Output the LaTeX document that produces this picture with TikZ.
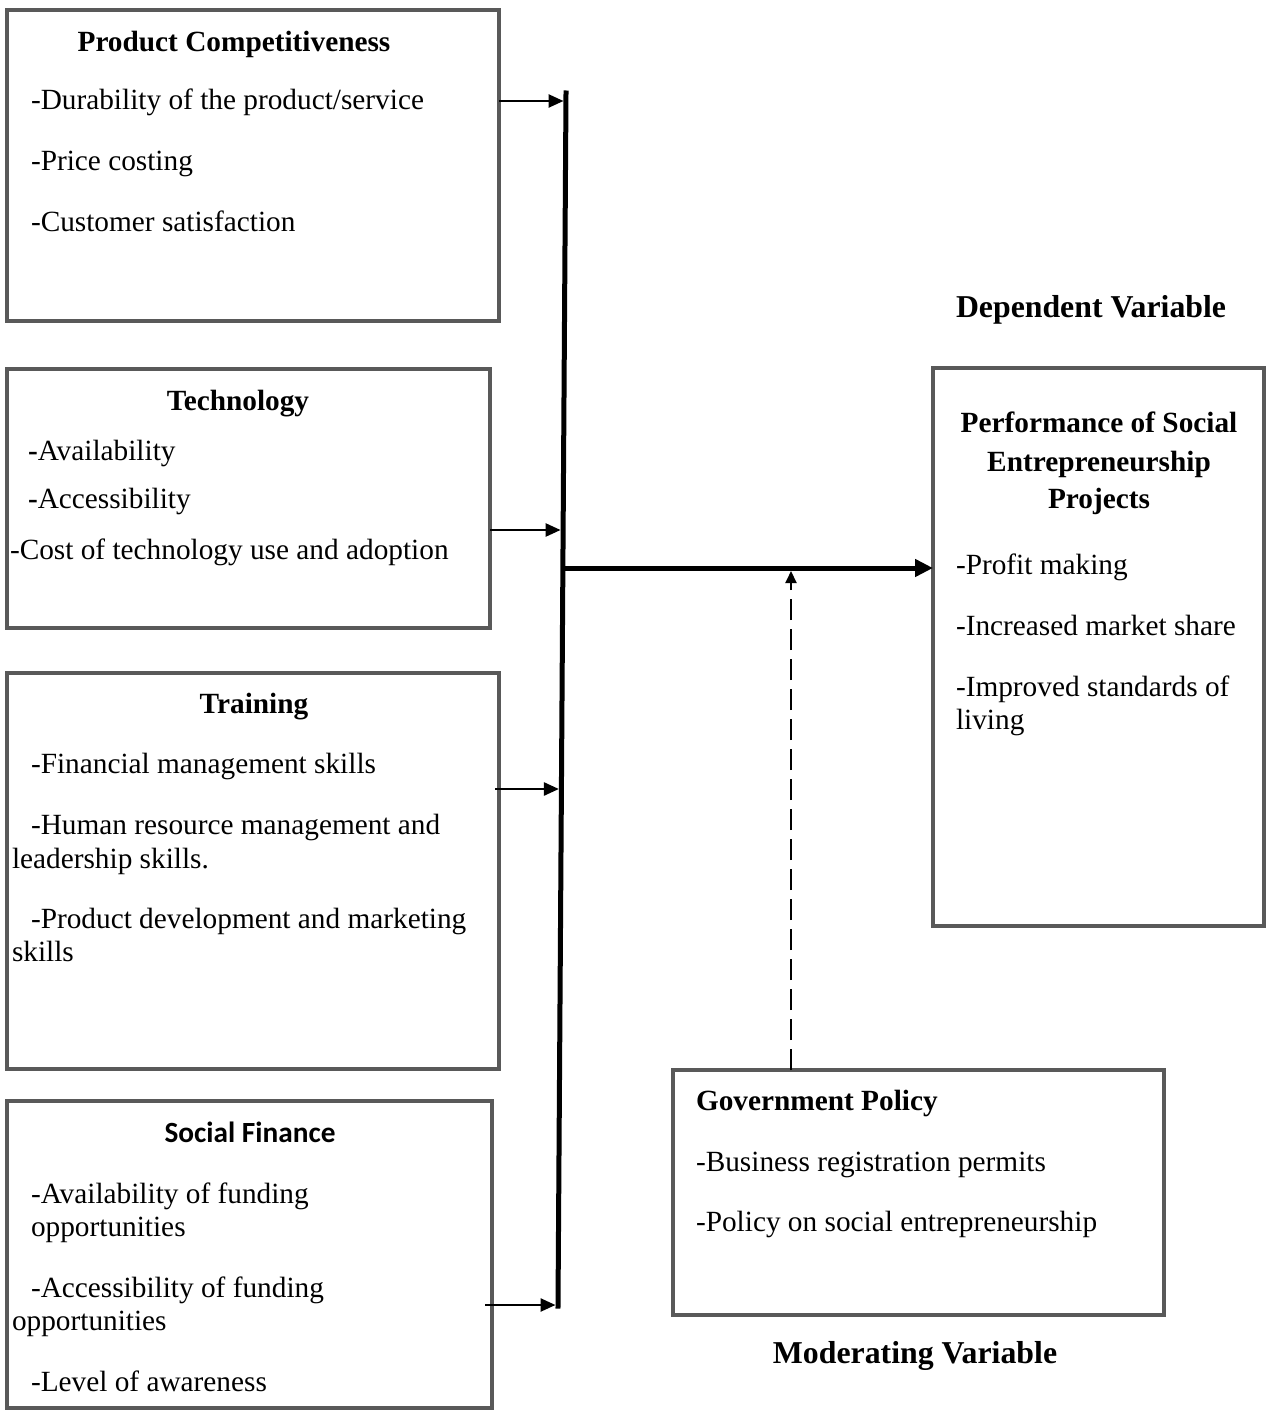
\documentclass[tikz,border=0pt]{standalone}
\usepackage{fontspec}
\setmainfont{Liberation Serif}
\newfontfamily\calfont{Carlito}
\usetikzlibrary{arrows.meta}
\definecolor{boxgray}{RGB}{89,89,89}
\tikzset{
  box/.style={draw=boxgray, line width=4bp, rectangle, inner sep=0pt, outer sep=0pt, anchor=north west},
  txt/.style={anchor=base west, inner sep=0pt, outer sep=0pt, font=\fontsize{29.3bp}{33.7bp}\selectfont},
  head/.style={anchor=base, inner sep=0pt, outer sep=0pt, font=\fontsize{29.3bp}{33.7bp}\selectfont\bfseries},
  bighead/.style={anchor=base, inner sep=0pt, outer sep=0pt, font=\fontsize{31.8bp}{36.5bp}\selectfont\bfseries},
  feed/.style={line width=2.5bp, -{Triangle[length=15bp,width=13bp]}},
  mainarrow/.style={line width=5bp, -{Triangle[length=18bp,width=17bp]}},
  modarrow/.style={line width=2bp, dash pattern=on 21bp off 9bp, -{Triangle[length=12bp,width=11bp]}},
  spine/.style={line width=5bp, line cap=rect}
}
\begin{document}
\begin{tikzpicture}[x=1bp,y=-1bp]
\useasboundingbox (0,0) rectangle (1269,1410);
% boxes
\node[box, minimum width=492bp, minimum height=311bp] (pc) at (7,10) {};
\node[box, minimum width=483bp, minimum height=259bp] (tech) at (7,369) {};
\node[box, minimum width=492bp, minimum height=396bp] (train) at (7,673) {};
\node[box, minimum width=484.5bp, minimum height=307bp] (sf) at (7,1101) {};
\node[box, minimum width=331bp, minimum height=558bp] (perf) at (933,368) {};
\node[box, minimum width=491bp, minimum height=245bp] (gp) at (673,1070) {};
% Product Competitiveness
\node[head] (pch) at (234,52) {Product Competitiveness};
\node[txt] (pc1) at (31,110) {-Durability of the product/service};
\node[txt] (pc2) at (31,171) {-Price costing};
\node[txt] (pc3) at (31,232) {-Customer satisfaction};
% Technology
\node[head] (th) at (238,410) {Technology};
\node[txt] (t1) at (28,460) {\textbf{-}Availability};
\node[txt] (t2) at (28,508) {\textbf{-}Accessibility};
\node[txt] (t3) at (10,559) {-Cost of technology use and adoption};
% Training
\node[head] (trh) at (254,713) {Training};
\node[txt] (tr1) at (31,773) {-Financial management skills};
\node[txt] (tr2) at (31,834) {-Human resource management and};
\node[txt] (tr2b) at (12,868) {leadership skills.};
\node[txt] (tr3) at (31,928) {-Product development and marketing};
\node[txt] (tr3b) at (12,961) {skills};
% Social Finance
\node[anchor=base, inner sep=0pt, font=\fontsize{29.3bp}{33.7bp}\calfont\bfseries] (sfh) at (250,1142) {Social Finance};
\node[txt] (sf1) at (31,1203) {-Availability of funding};
\node[txt] (sf1b) at (31,1236) {opportunities};
\node[txt] (sf2) at (31,1297) {-Accessibility of funding};
\node[txt] (sf2b) at (12,1330) {opportunities};
\node[txt] (sf3) at (31,1391) {-Level of awareness};
% Performance
\node[bighead] (dv) at (1091,317) {Dependent Variable};
\node[head] (ph1) at (1099,432) {Performance of Social};
\node[head] (ph2) at (1099,471) {Entrepreneurship};
\node[head] (ph3) at (1099,508) {Projects};
\node[txt] (p1) at (956,574) {-Profit making};
\node[txt] (p2) at (956,635) {-Increased market share};
\node[txt] (p3) at (956,696) {-Improved standards of};
\node[txt] (p3b) at (956,729) {living};
% Government Policy
\node[txt, font=\fontsize{29.3bp}{33.7bp}\selectfont\bfseries] (gph) at (696,1110) {Government Policy};
\node[txt] (gp1) at (696,1171) {-Business registration permits};
\node[txt] (gp2) at (696,1231) {-Policy on social entrepreneurship};
\node[bighead] (mv) at (915,1363) {Moderating Variable};
% spine
\coordinate (sT) at (566,93);
\coordinate (sB) at (558,1306);
\draw[spine] (sT) -- (sB);
\coordinate (j1) at (563.5,101);
\coordinate (j2) at (560.6,530);
\coordinate (j3) at (558.9,789);
\coordinate (j4) at (555.5,1305);
\coordinate (jm) at (565,568);
\draw[feed] (pc.east |- j1) -- (j1);
\draw[feed] (tech.east |- j2) -- (j2);
\draw[feed] (495,789) -- (j3);
\draw[feed] (485,1305) -- (j4);
\draw[mainarrow] (jm) -- (perf.west |- jm);
\coordinate (mm) at (791,571);
\draw[modarrow] (gp.north -| mm) -- (mm);
\end{tikzpicture}
\end{document}
